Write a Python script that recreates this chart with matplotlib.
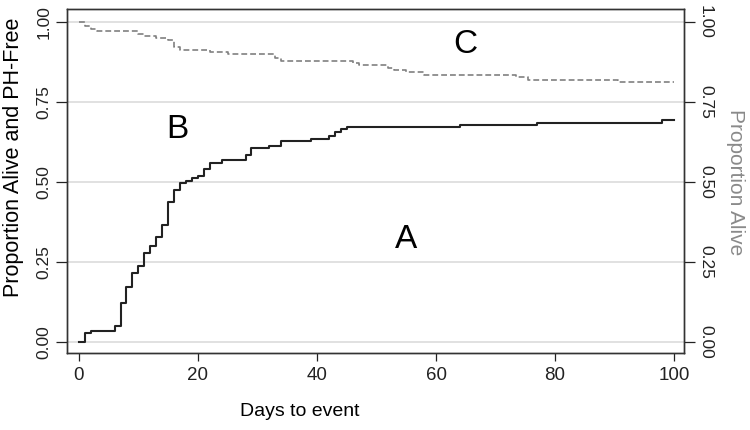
import matplotlib
matplotlib.use("Agg")
import matplotlib.pyplot as plt

plt.rcParams['font.family'] = ['Liberation Sans', 'DejaVu Sans']
narrow = ['Liberation Sans Narrow', 'Liberation Sans', 'DejaVu Sans']

# alive and PH-free (solid, cumulative incidence style)
days_pf = [0, 1, 2, 6, 7, 8, 9, 10, 11, 12, 13, 14, 15, 16, 17, 18, 19, 20, 21, 22,
           24, 28, 29, 32, 34, 39, 42, 43, 44, 45, 64, 77, 98, 100]
prop_pf = [0, 0.029, 0.036, 0.051, 0.123, 0.173, 0.217, 0.238, 0.277, 0.299, 0.329,
           0.366, 0.437, 0.474, 0.497, 0.503, 0.511, 0.519, 0.540, 0.560, 0.569,
           0.585, 0.605, 0.613, 0.627, 0.635, 0.644, 0.655, 0.665, 0.672, 0.679,
           0.685, 0.694, 0.694]

# alive (dashed)
days_alive = [0, 1, 2, 3, 10, 11, 13, 15, 16, 17, 22, 25, 33, 34, 46, 47, 52, 53,
              55, 58, 73.5, 75.5, 90.6, 100]
prop_alive = [1.0, 0.988, 0.978, 0.971, 0.9625, 0.957, 0.95, 0.942, 0.921, 0.913,
              0.907, 0.900, 0.887, 0.878, 0.871, 0.864, 0.855, 0.849, 0.842, 0.834,
              0.827, 0.819, 0.813, 0.813]

yticks = [0, 0.25, 0.5, 0.75, 1.0]
ylabels = ["0.00", "0.25", "0.50", "0.75", "1.00"]
xticks = [0, 20, 40, 60, 80, 100]

fig = plt.figure(figsize=(7.5, 4.3), dpi=100)
ax = fig.add_axes([0.0893, 0.179, 0.823, 0.800])

for y in yticks:
    ax.axhline(y, color="#d9d9d9", lw=1.1, zorder=0)

ax.step(days_pf, prop_pf, where="post", color="#222222", lw=1.5)
ax.step(days_alive, prop_alive, where="post", color="#808080", lw=1.2,
        linestyle=(0, (3.5, 1.8)))

ax.text(55, 0.32, "A", fontsize=24, ha="center", va="center")
ax.text(16.5, 0.665, "B", fontsize=24, ha="center", va="center")
ax.text(65, 0.93, "C", fontsize=24, ha="center", va="center")

ax.set_xlim(-2, 101.7)
ax.set_ylim(-0.034, 1.04)
ax.set_xticks(xticks)
ax.set_xticklabels([str(v) for v in xticks], family=narrow, fontsize=13.5)
ax.set_yticks(yticks)
ax.set_yticklabels(ylabels, rotation=90, va="center")
ax.tick_params(axis="y", length=8, width=0.9, labelsize=12.5, colors="#222222", pad=3)
ax.tick_params(axis="x", length=6, width=0.9, colors="#222222", pad=4)

ax2 = ax.twinx()
ax2.set_ylim(ax.get_ylim())
ax2.set_yticks(yticks)
ax2.set_yticklabels(ylabels, rotation=-90, va="center")
ax2.tick_params(axis="y", length=8, width=0.9, labelsize=12.5, colors="#222222", pad=2)

# axis titles placed like the original (not centred on the axes)
fig.text(0.40, 0.042, "Days to event", fontsize=14, family=narrow,
         ha="center", va="center")
fig.text(0.0175, 0.635, "Proportion Alive and PH-Free", fontsize=15.5,
         rotation=90, ha="center", va="center")
fig.text(0.981, 0.577, "Proportion Alive", fontsize=15, color="#8a8a8a",
         rotation=-90, ha="center", va="center")

for a in (ax, ax2):
    for s in a.spines.values():
        s.set_color("#333333")
        s.set_linewidth(1.0)

fig.savefig("out.png", dpi=100)
